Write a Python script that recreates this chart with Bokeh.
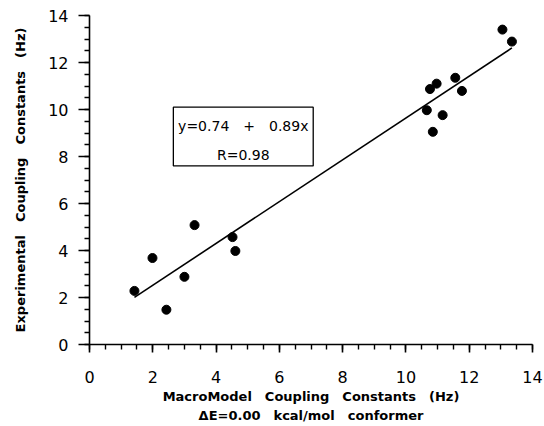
from bokeh.plotting import figure
from bokeh.models import Range1d, SingleIntervalTicker, BoxAnnotation, Label
from bokeh.embed import file_html
from bokeh.resources import INLINE

# data
calc_j = [1.42, 1.99, 2.43, 3.00, 3.32, 4.52, 4.61, 10.66, 10.76, 10.85, 10.97, 11.16, 11.56, 11.77, 13.05, 13.35]
exp_j = [2.28, 3.68, 1.48, 2.88, 5.08, 4.57, 3.98, 9.97, 10.87, 9.05, 11.10, 9.76, 11.35, 10.79, 13.40, 12.89]
fit_intercept = 0.74
fit_slope = 0.89
fit_r = 0.98
x_label_lines = [["MacroModel", "Coupling", "Constants", "(Hz)"],
                 ["\u0394E=0.00", "kcal/mol", "conformer"]]
y_label_words = ["Experimental", "Coupling", "Constants", "(Hz)"]

SP = "\u2003"  # wide word gap, as in the original typesetting
FONT = "DejaVu Sans"

p = figure(width=544, height=426, output_backend="svg", toolbar_location=None,
           x_range=Range1d(0, 14), y_range=Range1d(0, 14),
           min_border_left=89, min_border_right=12, min_border_top=15, min_border_bottom=80)
p.outline_line_color = None
p.xgrid.visible = False
p.ygrid.visible = False
p.background_fill_color = "white"
p.border_fill_color = "white"

for ax, tick_out in ((p.xaxis[0], 8), (p.yaxis[0], 11)):
    ax.ticker = SingleIntervalTicker(interval=2, num_minor_ticks=4)
    ax.axis_line_color = "black"
    ax.axis_line_width = 1.6
    ax.major_tick_line_color = "black"
    ax.major_tick_line_width = 1.6
    ax.minor_tick_line_color = "black"
    ax.minor_tick_line_width = 1.4
    ax.major_tick_in = 0
    ax.major_tick_out = tick_out
    ax.minor_tick_in = 0
    ax.minor_tick_out = 5
    ax.major_label_text_font = FONT
    ax.major_label_text_font_size = "16px"
    ax.major_label_text_color = "black"
    ax.axis_label_text_font = FONT
    ax.axis_label_text_font_style = "bold"
    ax.axis_label_text_font_size = "13px"
    ax.axis_label_text_color = "black"

p.xaxis.major_label_standoff = 18
p.yaxis.major_label_standoff = 10
p.xaxis.axis_label = "\n".join(SP.join(line) for line in x_label_lines)
p.yaxis.axis_label = SP.join(y_label_words)
p.xaxis.axis_label_text_line_height = 1.3
p.xaxis.axis_label_standoff = 3
p.yaxis.axis_label_standoff = 17

# regression line
x0, x1 = min(calc_j), max(calc_j)
p.line([x0, x1], [fit_intercept + fit_slope * x0, fit_intercept + fit_slope * x1],
       line_color="black", line_width=1.6)

p.scatter(calc_j, exp_j, size=9, marker="circle", fill_color="black", line_color="black")

# equation box
box = BoxAnnotation(left=2.65, right=7.07, bottom=7.6, top=10.1,
                    fill_color="white", fill_alpha=1.0, line_color="black",
                    line_alpha=1.0, line_width=1.3)
p.add_layout(box)
p.add_layout(Label(x=4.86, y=9.3, text=f"y={fit_intercept:.2f}{SP}+{SP}{fit_slope:.2f}x",
                   text_font=FONT, text_font_size="14px", text_align="center",
                   text_baseline="middle", text_color="black"))
p.add_layout(Label(x=4.86, y=8.05, text=f"R={fit_r:.2f}",
                   text_font=FONT, text_font_size="14px", text_align="center",
                   text_baseline="middle", text_color="black"))

open("out.html", "w").write(file_html(p, INLINE))
